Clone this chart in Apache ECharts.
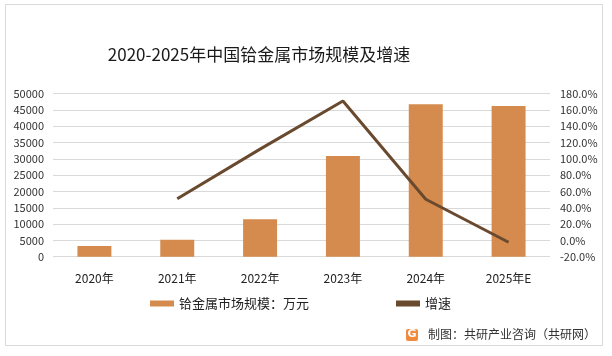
<!DOCTYPE html>
<html><head><meta charset="utf-8">
<script src="https://cdn.jsdelivr.net/npm/echarts@6/dist/echarts.min.js"></script>
<style>html,body{margin:0;padding:0;background:#fff}#c{width:612px;height:356px}</style>
</head><body><div id="c"></div>
<script>
const categories = ['2020年','2021年','2022年','2023年','2024年','2025年E'];
const marketSize = [3300, 5200, 11500, 30900, 46800, 46200];
const growth = [null, 51, 112, 171, 50.5, -2.3];
const leftTicks = [0, 50000, 5000];
const rightTicks = [-20, 180, 20];
const FONT = '"Noto Sans CJK SC","Microsoft YaHei",sans-serif';
const chart = echarts.init(document.getElementById('c'));
chart.setOption({
  animation:false,
  backgroundColor:'#fff',
  title:{text:'2020-2025年中国铪金属市场规模及增速',left:254,top:41,textAlign:'center',
    textStyle:{fontFamily:FONT,fontSize:17,fontWeight:'normal',color:'#1a1a1a'}},
  grid:{left:53,right:62,top:93.7,bottom:99.3},
  legend:{bottom:41,left:145,itemGap:87,itemWidth:24,itemHeight:6,
    textStyle:{fontFamily:FONT,fontSize:13,color:'#222'},
    data:[{name:'铪金属市场规模：万元',icon:'rect'},{name:'增速',icon:'rect'}]},
  xAxis:{type:'category',data:categories,
    axisLine:{show:false},axisTick:{show:false},
    axisLabel:{fontFamily:FONT,fontSize:12,color:'#222',margin:16}},
  yAxis:[
    {type:'value',min:leftTicks[0],max:leftTicks[1],interval:leftTicks[2],
     axisLine:{show:false},axisTick:{show:false},
     axisLabel:{fontFamily:FONT,fontSize:11,color:'#333',margin:9,formatter:v=>String(v)},
     splitLine:{lineStyle:{color:'#d9d9d9',width:1}}},
    {type:'value',min:rightTicks[0],max:rightTicks[1],interval:rightTicks[2],
     axisLine:{show:false},axisTick:{show:false},
     axisLabel:{fontFamily:FONT,fontSize:11,color:'#333',margin:10,
       formatter:v=>v.toFixed(1)+'%'},
     splitLine:{show:false}}
  ],
  series:[
    {name:'铪金属市场规模：万元',type:'bar',data:marketSize,barWidth:'41%',
     itemStyle:{color:'#D58B4D'}},
    {name:'增速',type:'line',yAxisIndex:1,data:growth,showSymbol:false,symbol:'none',
     lineStyle:{color:'#6A4A2F',width:3},itemStyle:{color:'#6A4A2F'}}
  ],
  graphic:[
    {type:'rect',shape:{x:5.5,y:4.5,width:597,height:341},
     style:{fill:'none',stroke:'#d9d9d9',lineWidth:1},silent:true,z:-1},
    {type:'rect',shape:{x:406,y:329,width:12,height:12,r:2},
     style:{fill:'#F08A3C'}},
    {type:'text',left:407.5,top:328.5,style:{text:'G',fill:'#fff',fontSize:11,fontWeight:'bold',fontFamily:'DejaVu Sans'}},
    {type:'text',left:428,top:328,style:{text:'制图：共研产业咨询（共研网）',fill:'#333',fontSize:12,fontFamily:FONT}}
  ]
});
</script></body></html>
